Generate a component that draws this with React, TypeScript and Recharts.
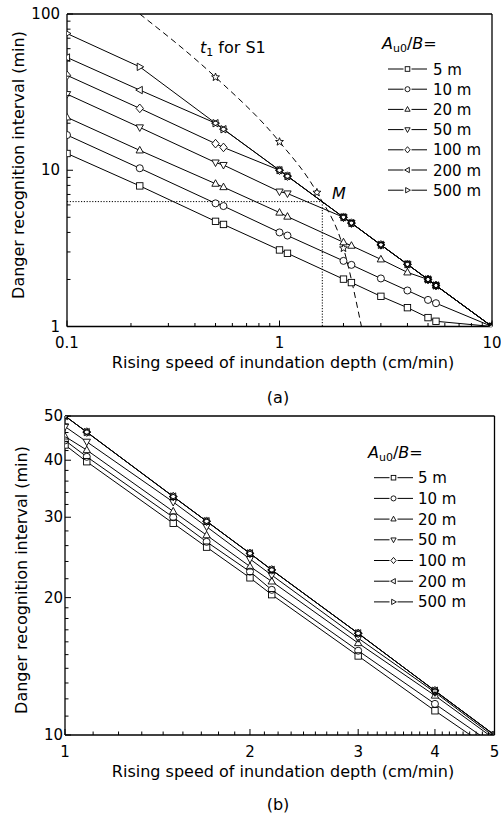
import React from "react";
import { LineChart, Line, XAxis, YAxis, ReferenceLine } from "recharts";

const FONT = "'DejaVu Sans', 'Liberation Sans', sans-serif";

const SERIES_NAMES = ["5 m", "10 m", "20 m", "50 m", "100 m", "200 m", "500 m"];
const SHAPES = ["square", "circle", "up", "down", "diamond", "left", "right"];

// ---- panel (a): 0.1 - 10 cm/min
const A_SPEED = [0.1, 0.22, 0.5, 0.545, 1, 1.09, 2, 2.18, 3, 4, 5, 5.45, 10];
const A_5M = [12.8, 7.94, 4.71, 4.5, 3.09, 2.94, 2.01, 1.91, 1.56, 1.32, 1.14, 1.08, 1];
const A_10M = [16.8, 10.3, 6.14, 5.9, 4.0, 3.82, 2.63, 2.48, 2.03, 1.7, 1.48, 1.41, 1];
const A_20M = [21.8, 13.4, 8.2, 7.8, 5.36, 5.05, 3.46, 3.29, 2.69, 2.22, 2, 1.83, 1];
const A_50M = [30.7, 18.8, 11.2, 10.8, 7.3, 7.1, 5, 4.59, 3.33, 2.5, 2, 1.83, 1];
const A_100M = [40.5, 24.9, 14.8, 14.0, 10, 9.17, 5, 4.59, 3.33, 2.5, 2, 1.83, 1];
const A_200M = [52.7, 32.6, 20, 18.3, 10, 9.17, 5, 4.59, 3.33, 2.5, 2, 1.83, 1];
const A_500M = [75, 45.9, 20, 18.3, 10, 9.17, 5, 4.59, 3.33, 2.5, 2, 1.83, 1];
const A_SERIES = [A_5M, A_10M, A_20M, A_50M, A_100M, A_200M, A_500M];

// t1 for S1 (dashed)
const A_T1_SPEED = [0.22, 0.5, 1, 1.5, 2, 2.43];
const A_T1 = [100, 39.4, 15.2, 7.2, 3.17, 1];
const A_M = [1.59, 6.3];

const A_X_MAJOR = [0.1, 1, 10];
const A_Y_MAJOR = [1, 10, 100];

// ---- panel (b): 1 - 5 cm/min
const B_SPEED = [1, 1.085, 1.5, 1.7, 2, 2.17, 3, 4, 5];
const B_5M = [43.2, 39.7, 29.1, 25.8, 22.1, 20.3, 14.9, 11.3, 9.2];
const B_10M = [44.2, 40.7, 30.0, 26.5, 22.8, 20.8, 15.3, 11.7, 9.5];
const B_20M = [45.1, 42.1, 30.9, 27.4, 23.4, 21.7, 15.9, 12.2, 9.8];
const B_50M = [47.4, 43.9, 32.4, 28.6, 24.3, 22.4, 16.3, 12.4, 9.9];
const B_100M = [50, 46.1, 33.3, 29.4, 25, 23.0, 16.7, 12.5, 10];
const B_200M = [50, 46.1, 33.3, 29.4, 25, 23.0, 16.7, 12.5, 10];
const B_500M = [50, 46.1, 33.3, 29.4, 25, 23.0, 16.7, 12.5, 10];
const B_SERIES = [B_5M, B_10M, B_20M, B_50M, B_100M, B_200M, B_500M];

const B_X_MAJOR = [1, 2, 3, 4, 5];
const B_Y_MAJOR = [10, 20, 30, 40, 50];

// minor ticks
const logMinors = (lo: number, hi: number) => {
  const out: number[] = [];
  for (let d = lo; d < hi; d *= 10) for (let k = 1; k < 10; k++) out.push(d * k);
  out.push(hi);
  return out;
};
const A_X_TICKS = logMinors(0.1, 10);
const A_Y_TICKS = logMinors(1, 100);
const B_X_TICKS: number[] = [];
for (let i = 1; i < 5; i++) for (let k = 0; k < 9; k++) B_X_TICKS.push(i + k / 9);
B_X_TICKS.push(5);
const B_Y_TICKS: number[] = [];
for (let v = 10; v < 20; v++) B_Y_TICKS.push(v);
for (let v = 20; v <= 50; v += 2) B_Y_TICKS.push(v);

const rows = (xs: number[], ys: number[]) => xs.map((x, i) => ({ x, t: ys[i] }));
const isMajor = (majors: number[], v: number) => majors.some((m) => Math.abs(m - v) < 1e-6);

function Marker({ shape, cx, cy, s, fill, stroke }: any) {
  const common = { fill, stroke, strokeWidth: 0.9 };
  if (shape === "square") return <rect x={cx - s} y={cy - s} width={2 * s} height={2 * s} {...common} />;
  if (shape === "circle") return <circle cx={cx} cy={cy} r={s * 1.1} {...common} />;
  let pts: number[][] = [];
  if (shape === "up") pts = [[0, -1.25], [1.15, 0.8], [-1.15, 0.8]];
  if (shape === "down") pts = [[0, 1.25], [1.15, -0.8], [-1.15, -0.8]];
  if (shape === "diamond") pts = [[0, -1.35], [1.15, 0], [0, 1.35], [-1.15, 0]];
  if (shape === "left") pts = [[-1.25, 0], [0.8, -1.15], [0.8, 1.15]];
  if (shape === "right") pts = [[1.25, 0], [-0.8, -1.15], [-0.8, 1.15]];
  if (shape === "star") {
    for (let k = 0; k < 10; k++) {
      const a = -Math.PI / 2 + (k * Math.PI) / 5;
      const r = k % 2 === 0 ? 1.15 : 0.5;
      pts.push([r * Math.cos(a), r * Math.sin(a)]);
    }
  }
  return <polygon points={pts.map(([a, b]) => `${cx + a * s},${cy + b * s}`).join(" ")} {...common} />;
}

const xTick = (majors: number[], dy: number) => (p: any) => {
  const { x, y, payload } = p;
  const major = isMajor(majors, payload.value);
  return (
    <g>
      <line x1={x} x2={x} y1={y} y2={y - (major ? 6 : 3.5)} stroke="#000" strokeWidth={1} />
      {major && (
        <text x={x} y={y + dy} textAnchor="middle" fontSize={15} fontFamily={FONT} fill="#000">
          {String(payload.value)}
        </text>
      )}
    </g>
  );
};

const yTick = (majors: number[], dx: number) => (p: any) => {
  const { x, y, payload } = p;
  const major = isMajor(majors, payload.value);
  return (
    <g>
      <line x1={x} x2={x + (major ? 6 : 3.5)} y1={y} y2={y} stroke="#000" strokeWidth={1} />
      {major && (
        <text x={x - dx} y={y + 5} textAnchor="end" fontSize={15} fontFamily={FONT} fill="#000">
          {String(payload.value)}
        </text>
      )}
    </g>
  );
};

function seriesLines(speeds: number[], series: number[][], s: number) {
  const out: any[] = [];
  series.forEach((vals, i) =>
    out.push(
      <Line key={"l" + i} data={rows(speeds, vals)} dataKey="t" stroke="#000" strokeWidth={1}
        dot={false} activeDot={false} isAnimationActive={false} />
    )
  );
  series.forEach((vals, i) =>
    out.push(
      <Line key={"w" + i} data={rows(speeds, vals)} dataKey="t" stroke="none" activeDot={false}
        isAnimationActive={false}
        dot={(p: any) => <Marker key={p.index} shape={SHAPES[i]} cx={p.cx} cy={p.cy} s={s} fill="#fff" stroke="none" />} />
    )
  );
  series.forEach((vals, i) =>
    out.push(
      <Line key={"o" + i} data={rows(speeds, vals)} dataKey="t" stroke="none" activeDot={false}
        isAnimationActive={false}
        dot={(p: any) => <Marker key={p.index} shape={SHAPES[i]} cx={p.cx} cy={p.cy} s={s} fill="none" stroke="#000" />} />
    )
  );
  return out;
}

function LegendBlock({ x, y, lineX0, lineX1, textX, step }: any) {
  const mid = (lineX0 + lineX1) / 2;
  return (
    <g fontFamily={FONT} fill="#000">
      <text x={x} y={y + 6} fontSize={16}>
        <tspan fontStyle="italic">A</tspan>
        <tspan fontSize={11} dy={3}>u0</tspan>
        <tspan dy={-3}>/</tspan>
        <tspan fontStyle="italic">B</tspan>
        <tspan>=</tspan>
      </text>
      {SERIES_NAMES.map((n, i) => {
        const cy = y + 26 + i * step;
        return (
          <g key={n}>
            <line x1={lineX0} x2={mid - 4} y1={cy} y2={cy} stroke="#000" strokeWidth={1} />
            <line x1={mid + 4} x2={lineX1} y1={cy} y2={cy} stroke="#000" strokeWidth={1} />
            <Marker shape={SHAPES[i]} cx={mid} cy={cy} s={2.3} fill="none" stroke="#000" />
            <text x={textX} y={cy + 5.5} fontSize={15}>{n}</text>
          </g>
        );
      })}
    </g>
  );
}

export default function App() {
  const axisLine = { stroke: "#000", strokeWidth: 1.3 };
  return (
    <div style={{ position: "absolute", left: 0, top: 0, width: 501, height: 819, background: "#fff" }}>
      <div style={{ position: "absolute", left: 0, top: 0 }}>
        <LineChart width={501} height={400} margin={{ top: 14, right: 9, bottom: 43.5, left: 0 }}>
          <XAxis dataKey="x" type="number" scale="log" domain={[0.1, 10]} allowDataOverflow
            ticks={A_X_TICKS} interval={0} tickSize={0} tickMargin={0} tickLine={false}
            axisLine={axisLine} height={30} tick={xTick(A_X_MAJOR, 21)} />
          <YAxis type="number" scale="log" domain={[1, 100]} allowDataOverflow
            ticks={A_Y_TICKS} interval={0} tickSize={0} tickMargin={0} tickLine={false}
            axisLine={axisLine} width={67} tick={yTick(A_Y_MAJOR, 7)} />
          <ReferenceLine y={100} stroke="#000" strokeWidth={1.3} />
          <ReferenceLine x={10} stroke="#000" strokeWidth={1.3} />
          <ReferenceLine segment={[{ x: 0.1, y: A_M[1] }, { x: A_M[0], y: A_M[1] }]}
            stroke="#000" strokeWidth={1} strokeDasharray="1.2 1.6" />
          <ReferenceLine segment={[{ x: A_M[0], y: A_M[1] }, { x: A_M[0], y: 1 }]}
            stroke="#000" strokeWidth={1} strokeDasharray="1.2 1.6" />
          <Line data={rows(A_T1_SPEED, A_T1)} dataKey="t" type="monotone" stroke="#000" strokeWidth={1}
            strokeDasharray="6 4" activeDot={false} isAnimationActive={false}
            dot={(p: any) =>
              p.index === 0 || p.index === A_T1.length - 1 ? <g key={p.index} /> :
              <Marker key={p.index} shape="star" cx={p.cx} cy={p.cy} s={3.6} fill="#fff" stroke="#000" />} />
          {seriesLines(A_SPEED, A_SERIES, 3.2)}
        </LineChart>
      </div>
      <div style={{ position: "absolute", left: 0, top: 400 }}>
        <LineChart width={501} height={419} margin={{ top: 16, right: 6.5, bottom: 54, left: 0 }}>
          <XAxis dataKey="x" type="number" scale="log" domain={[1, 5]} allowDataOverflow
            ticks={B_X_TICKS} interval={0} tickSize={0} tickMargin={0} tickLine={false}
            axisLine={axisLine} height={30} tick={xTick(B_X_MAJOR, 22)} />
          <YAxis type="number" scale="log" domain={[10, 50]} allowDataOverflow
            ticks={B_Y_TICKS} interval={0} tickSize={0} tickMargin={0} tickLine={false}
            axisLine={axisLine} width={65} tick={yTick(B_Y_MAJOR, 2)} />
          <ReferenceLine y={50} stroke="#000" strokeWidth={1.3} />
          <ReferenceLine x={5} stroke="#000" strokeWidth={1.3} />
          {seriesLines(B_SPEED, B_SERIES, 3.2)}
        </LineChart>
      </div>
      <svg width={501} height={819} style={{ position: "absolute", left: 0, top: 0, pointerEvents: "none" }}>
        <g fontFamily={FONT} fill="#000">
          <text transform="translate(18.5,165) rotate(-90)" textAnchor="middle" dominantBaseline="central" fontSize={16}>
            Danger recognition interval (min)
          </text>
          <text x={283} y={368} textAnchor="middle" fontSize={16}>Rising speed of inundation depth (cm/min)</text>
          <text x={278} y={403} textAnchor="middle" fontSize={16}>(a)</text>
          <text x={200} y={53} fontSize={16}>
            <tspan fontStyle="italic">t</tspan>
            <tspan fontSize={11} dy={3}>1</tspan>
            <tspan dy={-3}> for S1</tspan>
          </text>
          <text x={332} y={199} fontSize={16} fontStyle="italic">M</text>

          <text transform="translate(21.5,580) rotate(-90)" textAnchor="middle" dominantBaseline="central" fontSize={16}>
            Danger recognition interval (min)
          </text>
          <text x={283} y={777} textAnchor="middle" fontSize={16}>Rising speed of inundation depth (cm/min)</text>
          <text x={278} y={810} textAnchor="middle" fontSize={16}>(b)</text>
        </g>
        <LegendBlock x={382} y={43} lineX0={388} lineX1={427} textX={433} step={20.2} />
        <LegendBlock x={368} y={451.7} lineX0={374} lineX1={413} textX={418} step={20.7} />
      </svg>
    </div>
  );
}
